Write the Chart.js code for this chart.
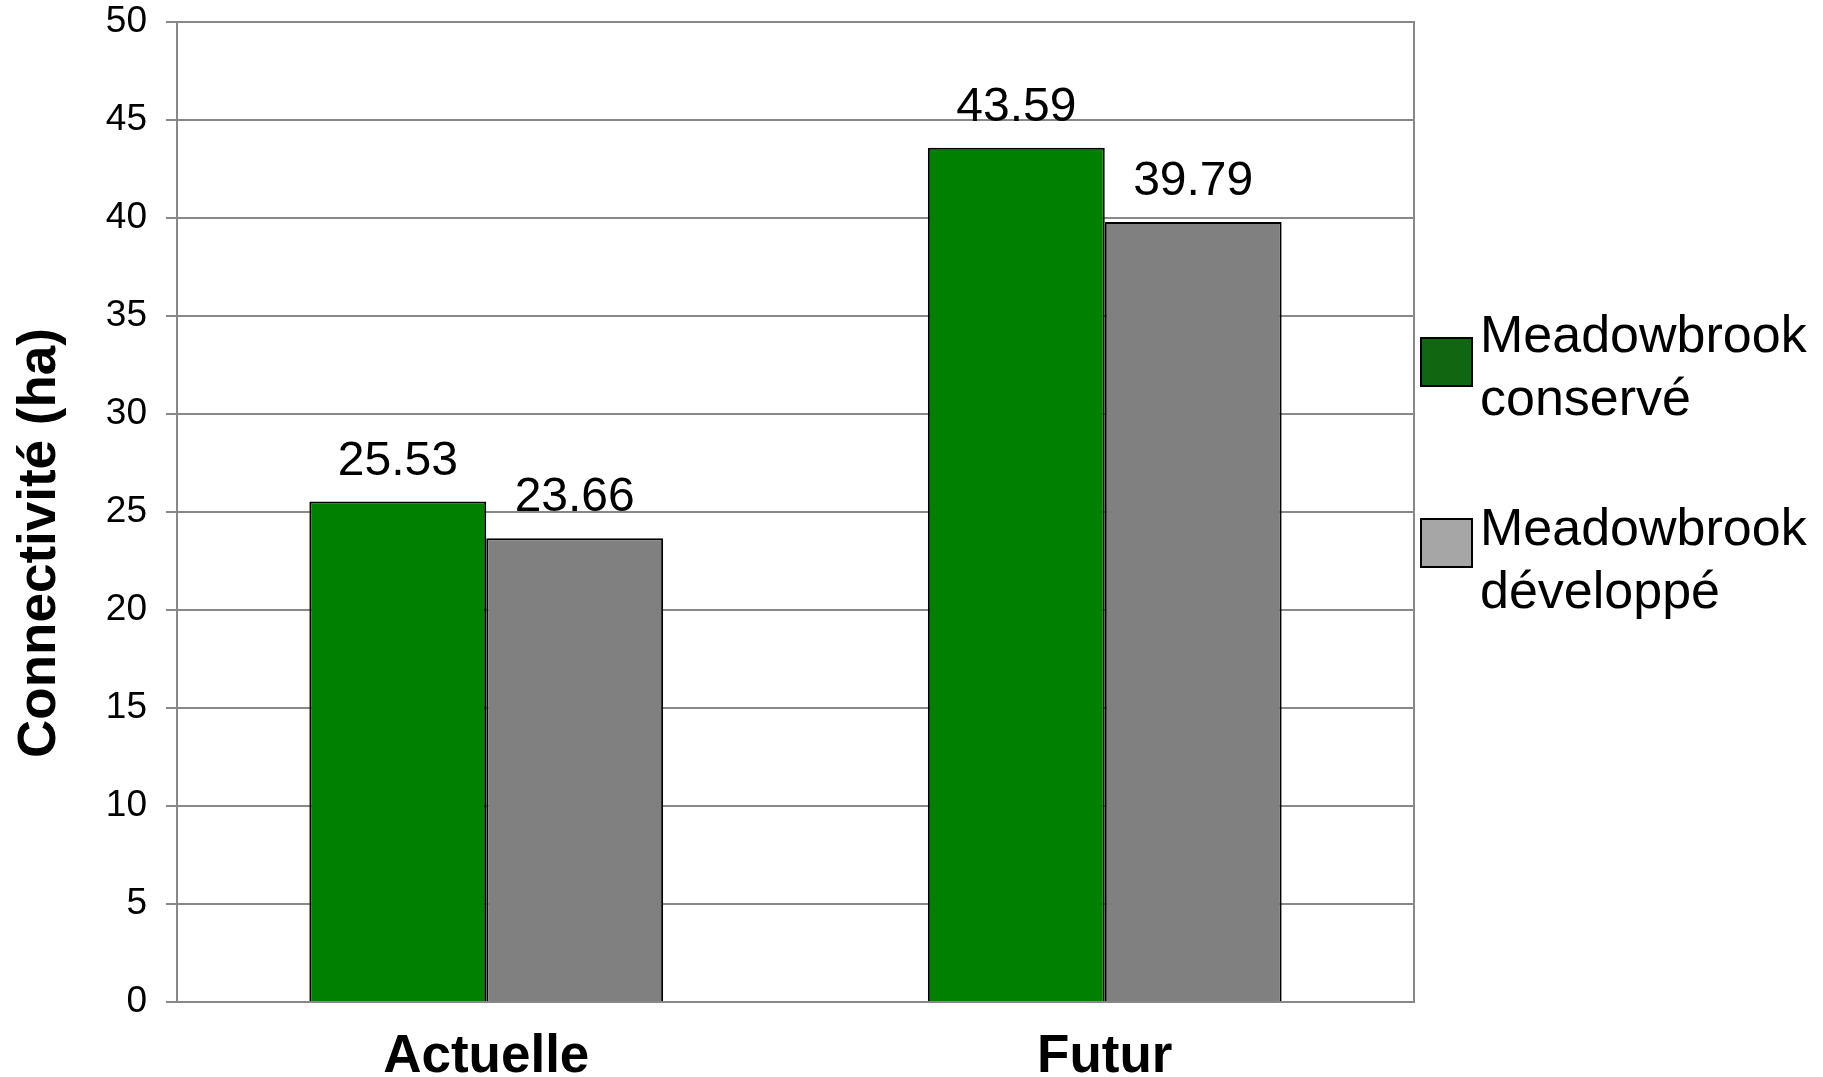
<!DOCTYPE html>
<html>
<head>
<meta charset="utf-8">
<script src="https://cdn.jsdelivr.net/npm/chart.js@4.4.1/dist/chart.umd.min.js"></script>
<style>
	html, body { margin: 0; padding: 0; background: #fff; }
</style>
</head>
<body>
<canvas id="chart" width="1823" height="1077"></canvas>
<script>
// data
const categories = ["Actuelle", "Futur"];
const conserve = [25.53, 43.59];
const developpe = [23.66, 39.79];
const seriesLines = [["Meadowbrook", "conservé"], ["Meadowbrook", "développé"]];
const yMin = 0, yMax = 50, yStep = 5;
const yTitle = "Connectivité (ha)";

const barColors = ["#008000", "#808080"];
const legendColors = ["#116611", "#a6a6a6"];
const gridColor = "#888888";
const fontFamily = '"Liberation Sans", Arial, sans-serif';

const extras = {
	id: "extras",
	afterDraw(chart) {
		let ctx = chart.ctx;
		let a = chart.chartArea;
		ctx.save();

		// right edge of the plot box
		ctx.strokeStyle = gridColor;
		ctx.lineWidth = 2;
		ctx.beginPath();
		ctx.moveTo(a.right, a.top - 1);
		ctx.lineTo(a.right, a.bottom + 1);
		ctx.stroke();

		// value labels above bars
		ctx.fillStyle = "#000";
		ctx.font = "48px " + fontFamily;
		ctx.textAlign = "center";
		ctx.textBaseline = "alphabetic";
		chart.data.datasets.forEach(function(ds, i) {
			chart.getDatasetMeta(i).data.forEach(function(bar, j) {
				ctx.fillText(ds.data[j].toFixed(2), bar.x, bar.y - 27);
			});
		});

		// y axis title
		ctx.save();
		ctx.translate(55, (a.top + a.bottom) / 2 + 31);
		ctx.rotate(-Math.PI / 2);
		ctx.font = "bold 53px " + fontFamily;
		ctx.fillText(yTitle, 0, 0);
		ctx.restore();

		// legend
		ctx.textAlign = "left";
		ctx.font = "52px " + fontFamily;
		chart.data.datasets.forEach(function(ds, i) {
			let bx = a.right + 7;
			let by = 338 + 181 * i;
			ctx.fillStyle = legendColors[i];
			ctx.fillRect(bx, by, 51, 48);
			ctx.strokeStyle = "#000";
			ctx.lineWidth = 2;
			ctx.strokeRect(bx, by, 51, 48);
			ctx.fillStyle = "#000";
			seriesLines[i].forEach(function(line, k) {
				ctx.fillText(line, a.right + 66, 352 + 193 * i + 63 * k);
			});
		});

		ctx.restore();
	}
};

new Chart(document.getElementById("chart"), {
	type: "bar",
	data: {
		labels: categories,
		datasets: [{
			label: seriesLines[0].join(" "),
			data: conserve,
			backgroundColor: barColors[0],
			borderColor: "#000",
			borderWidth: 2
		}, {
			label: seriesLines[1].join(" "),
			data: developpe,
			backgroundColor: barColors[1],
			borderColor: "#000",
			borderWidth: 2
		}]
	},
	options: {
		responsive: false,
		animation: false,
		layout: {
			padding: { right: 409, top: 0, left: 0, bottom: 0 }
		},
		datasets: {
			bar: {
				categoryPercentage: 0.572,
				barPercentage: 1
			}
		},
		plugins: {
			legend: { display: false },
			tooltip: { enabled: false }
		},
		scales: {
			x: {
				grid: { display: false },
				border: { display: true, color: gridColor, width: 2 },
				ticks: {
					color: "#000",
					padding: 16,
					font: { family: fontFamily, size: 53, weight: "bold" }
				},
				afterFit: function(scale) { scale.height = 75; }
			},
			y: {
				min: yMin,
				max: yMax,
				ticks: {
					stepSize: yStep,
					color: "#000",
					padding: 19,
					font: { family: fontFamily, size: 37 }
				},
				grid: {
					color: gridColor,
					lineWidth: 2,
					tickLength: 11,
					drawTicks: true
				},
				border: { display: true, color: gridColor, width: 2 },
				afterFit: function(scale) {
					scale.width = 177;
					scale.paddingTop = 22;
				}
			}
		}
	},
	plugins: [extras]
});
</script>
</body>
</html>
